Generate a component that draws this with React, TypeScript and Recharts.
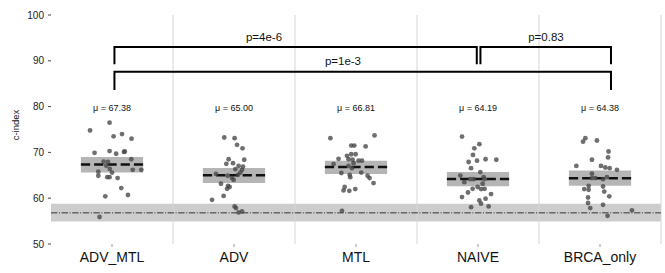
import React from "react";
import {
  ScatterChart,
  Scatter,
  XAxis,
  YAxis,
  ReferenceArea,
  ReferenceLine,
} from "recharts";

const categories = ["ADV_MTL", "ADV", "MTL", "NAIVE", "BRCA_only"];
const means = [67.38, 65.0, 66.81, 64.19, 64.38];
const ciLow = [65.6, 63.3, 65.3, 62.6, 62.7];
const ciHigh = [69.0, 66.6, 68.2, 65.7, 66.05];
const yTicks = [50, 60, 70, 80, 90, 100];

// baseline (random / reference) band
const baseLow = 54.9;
const baseMean = 56.8;
const baseHigh = 58.8;

// [jitter, c-index] per run
const advMtl = [
  [-0.02, 76.5], [-0.18, 74.8], [0.013, 73.5], [0.082, 74.0], [0.16, 73.0],
  [-0.143, 69.9], [-0.02, 70.3], [0.034, 69.7], [0.098, 70.1], [0.105, 70.2],
  [0.158, 68.5], [-0.069, 68.0], [-0.033, 67.9], [-0.047, 67.1], [-0.018, 66.4],
  [0.0, 65.6], [-0.112, 65.8], [-0.112, 64.9], [-0.039, 64.6], [-0.02, 64.6],
  [0.046, 64.4], [0.17, 66.2], [0.24, 66.2], [0.076, 62.2], [-0.055, 60.4],
  [0.131, 60.7], [-0.102, 55.9],
];
const adv = [
  [-0.08, 73.25], [0.005, 73.1], [0.025, 71.65], [0.07, 70.9], [-0.044, 68.5],
  [0.084, 68.4], [-0.063, 67.5], [-0.008, 67.65], [0.038, 67.05], [0.074, 66.9],
  [0.011, 66.35], [0.066, 66.2], [0.052, 65.6], [0.033, 65.1], [-0.148, 65.3],
  [-0.052, 64.9], [-0.016, 64.4], [-0.003, 64.0], [-0.107, 63.15], [-0.049, 62.7],
  [-0.036, 62.45], [-0.057, 62.05], [-0.085, 60.5], [-0.18, 59.65], [0.005, 58.2],
  [0.016, 57.85], [0.038, 56.9], [0.066, 57.1],
];
const mtl = [
  [-0.21, 73.1], [0.152, 73.7], [-0.039, 71.5], [-0.014, 71.5], [0.079, 71.3],
  [-0.074, 69.25], [-0.039, 69.6], [-0.003, 69.6], [-0.143, 68.6], [-0.061, 68.5],
  [-0.028, 68.4], [0.021, 68.2], [0.049, 68.2], [-0.184, 67.45], [-0.02, 67.65],
  [-0.061, 67.05], [-0.033, 66.55], [-0.12, 65.5], [-0.052, 65.1], [-0.047, 64.6],
  [0.043, 65.6], [0.095, 64.9], [0.111, 64.4], [0.144, 63.3], [-0.093, 62.45],
  [-0.102, 61.7], [-0.055, 61.6], [-0.006, 62.0], [-0.115, 57.25],
];
const naive = [
  [-0.131, 73.45], [0.011, 71.8], [-0.03, 70.9], [-0.041, 69.45], [-0.077, 67.9],
  [-0.008, 68.2], [0.062, 68.5], [0.15, 68.4], [-0.057, 66.55], [0.019, 65.7],
  [-0.145, 64.95], [-0.112, 63.5], [-0.063, 64.15], [-0.036, 64.15], [0.046, 64.6],
  [0.054, 64.15], [0.038, 63.15], [-0.044, 62.05], [-0.003, 62.45], [0.025, 62.0],
  [0.054, 62.05], [-0.082, 61.25], [-0.131, 60.25], [0.107, 60.9], [0.062, 59.9],
  [0.011, 59.5], [0.025, 58.8], [-0.057, 58.05], [0.087, 58.2],
];
const brcaOnly = [
  [-0.12, 73.1], [-0.139, 72.35], [-0.025, 72.6], [0.07, 70.2], [0.066, 68.9],
  [-0.066, 68.4], [-0.194, 67.05], [0.008, 67.05], [0.043, 66.7], [0.079, 66.55],
  [0.139, 66.2], [-0.066, 65.35], [-0.066, 64.4], [-0.039, 64.4], [0.025, 64.15],
  [0.057, 64.6], [-0.093, 62.7], [-0.129, 62.0], [-0.093, 61.85], [0.025, 62.55],
  [0.035, 61.45], [0.076, 60.4], [-0.098, 60.15], [-0.098, 58.95], [-0.08, 57.85],
  [0.025, 58.55], [0.062, 56.15], [0.262, 57.35],
];
const runs = [advMtl, adv, mtl, naive, brcaOnly];

// significance brackets (x in category units, y in c-index units)
const brackets = [
  { x1: 0.02, x2: 2.99, top: 93.0, arm: 89.25, label: "p=4e-6", lx: 1.246, ly: 95.2 },
  { x1: 3.02, x2: 4.09, top: 93.0, arm: 89.25, label: "p=0.83", lx: 3.557, ly: 95.2 },
  { x1: 0.02, x2: 4.09, top: 87.6, arm: 83.65, label: "p=1e-3", lx: 1.893, ly: 89.9 },
];

const FONT = "'Liberation Sans', Arial, sans-serif";
const HALF_BOX = 0.255;

const points = runs.flatMap((r, i) => r.map(([j, v]) => ({ x: i + j, y: v })));
const meanLabels = means.map((m, i) => ({ x: i, y: 79.7, text: `\u03bc = ${m.toFixed(2)}` }));
const pLabels = brackets.map((b) => ({ x: b.lx, y: b.ly, text: b.label }));

function Dot(props: any) {
  return <circle cx={props.cx} cy={props.cy} r={2.4} fill="#474747" fillOpacity={0.78} />;
}

function NoShape() {
  return <g />;
}

function TextShape(size: number) {
  return (props: any) => (
    <text
      x={props.cx}
      y={props.cy}
      textAnchor="middle"
      dominantBaseline="central"
      fontSize={size}
      fontFamily={FONT}
      fill="#111"
    >
      {props.payload.text}
    </text>
  );
}

function YLabel(props: any) {
  const vb = props.viewBox || { y: 15, height: 229 };
  const y = vb.y + vb.height / 2 - 4.5;
  return (
    <text
      x={18.5}
      y={y}
      transform={`rotate(-90 18.5 ${y})`}
      textAnchor="middle"
      fontSize={9.5}
      fontFamily={FONT}
      fill="#111"
    >
      c-index
    </text>
  );
}

export default function App() {
  return (
    <div style={{ position: "absolute", left: 0, top: 0, background: "#fff" }}>
      <ScatterChart
        width={665}
        height={273}
        margin={{ top: 15, right: 4, bottom: 1, left: 0 }}
        style={{ fontFamily: FONT }}
      >
        <XAxis
          type="number"
          dataKey="x"
          domain={[-0.5, 4.5]}
          ticks={[0, 1, 2, 3, 4]}
          interval={0}
          tickFormatter={(v) => categories[v] ?? ""}
          axisLine={false}
          tickLine={{ stroke: "#999" }}
          tickSize={3}
          tickMargin={5}
          height={28}
          tick={{ fontSize: 14, fill: "#111", fontFamily: FONT }}
          allowDataOverflow
        />
        <YAxis
          type="number"
          dataKey="y"
          domain={[50, 100]}
          ticks={yTicks}
          interval={0}
          axisLine={false}
          tickLine={{ stroke: "#444" }}
          tickSize={3}
          tickMargin={4}
          width={51}
          tick={{ fontSize: 10, fill: "#222", fontFamily: FONT }}
          label={<YLabel />}
          allowDataOverflow
        />

        {[0.5, 1.5, 2.5, 3.5, 4.5].map((x) => (
          <ReferenceLine key={"g" + x} x={x} stroke="#d6d6d6" strokeWidth={1} />
        ))}

        <ReferenceArea
          x1={-0.5}
          x2={4.5}
          y1={baseLow}
          y2={baseHigh}
          fill="#c4c4c4"
          fillOpacity={0.85}
          stroke="none"
          ifOverflow="extendDomain"
        />
        <ReferenceLine
          y={baseMean}
          stroke="#333"
          strokeWidth={1}
          strokeDasharray="6.4 1.6 1 1.6"
        />

        {categories.map((c, i) => (
          <ReferenceArea
            key={"box" + c}
            x1={i - HALF_BOX}
            x2={i + HALF_BOX}
            y1={ciLow[i]}
            y2={ciHigh[i]}
            fill="#a8a8a8"
            fillOpacity={0.85}
            stroke="none"
          />
        ))}
        {categories.map((c, i) => (
          <ReferenceLine
            key={"mean" + c}
            segment={[
              { x: i - HALF_BOX, y: means[i] },
              { x: i + HALF_BOX, y: means[i] },
            ]}
            stroke="#111"
            strokeWidth={2.5}
            strokeDasharray="9.25 4"
          />
        ))}

        <Scatter data={points} shape={Dot} isAnimationActive={false} />

        {brackets.map((b, k) => (
          <Scatter
            key={"br" + k}
            data={[
              { x: b.x1, y: b.arm },
              { x: b.x1, y: b.top },
              { x: b.x2, y: b.top },
              { x: b.x2, y: b.arm },
            ]}
            line={{ stroke: "#000", strokeWidth: 2 }}
            lineType="joint"
            shape={NoShape}
            isAnimationActive={false}
          />
        ))}

        <Scatter data={meanLabels} shape={TextShape(9)} isAnimationActive={false} />
        <Scatter data={pLabels} shape={TextShape(11.5)} isAnimationActive={false} />
      </ScatterChart>
    </div>
  );
}
